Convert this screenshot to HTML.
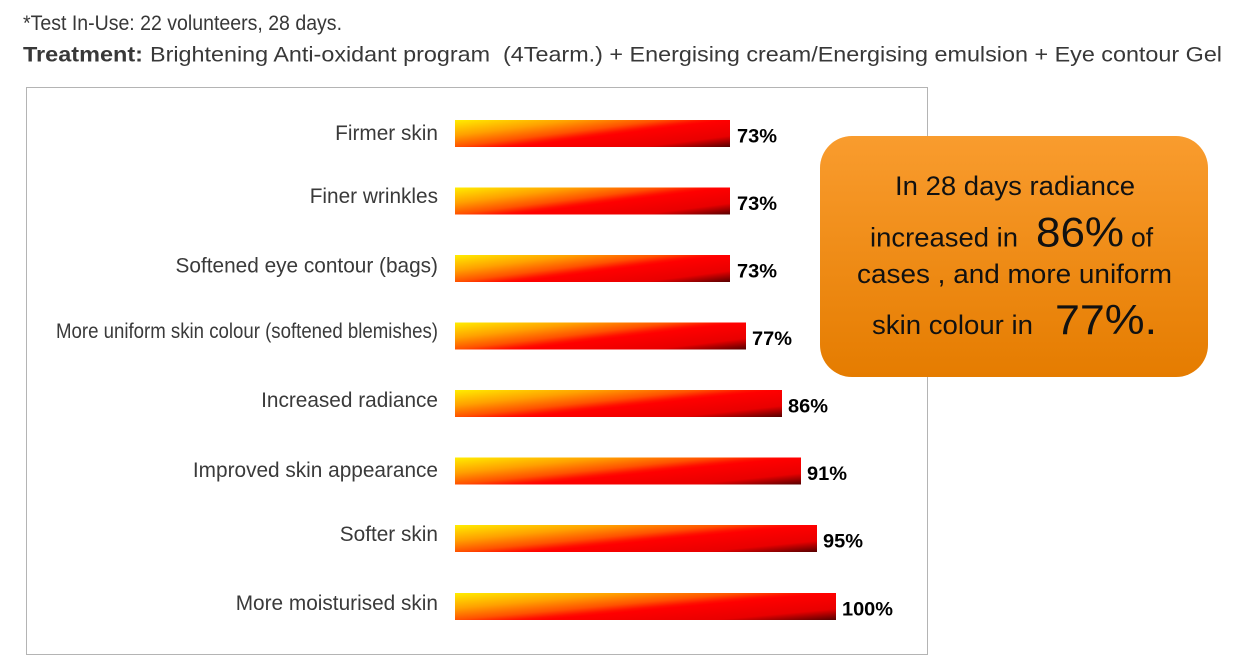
<!DOCTYPE html>
<html>
<head>
<meta charset="utf-8">
<style>
  html, body { margin: 0; padding: 0; background: #ffffff; }
  body { width: 1244px; height: 665px; overflow: hidden; }
  svg { display: block; }
  .hdr { font-family: "Liberation Sans", sans-serif; font-size: 21px; fill: #383838; }
  .lbl { font-family: "Liberation Sans", sans-serif; font-size: 20.8px; fill: #3a3a3a; }
  .val { font-family: "Liberation Sans", sans-serif; font-size: 19px; font-weight: bold; fill: #000; }
  .box { font-family: "Liberation Sans", sans-serif; font-size: 26.5px; fill: #111; }
  .big { font-family: "Liberation Sans", sans-serif; font-size: 42px; fill: #111; }
</style>
</head>
<body>
<svg width="1244" height="665" viewBox="0 0 1244 665" xmlns="http://www.w3.org/2000/svg">
  <defs>
    <linearGradient id="bar" x1="0" y1="0" x2="1.1156" y2="0.848">
      <stop offset="0" stop-color="#ffee00"/>
      <stop offset="0.25" stop-color="#ffa000"/>
      <stop offset="0.43" stop-color="#ff5200"/>
      <stop offset="0.52" stop-color="#ff1000"/>
      <stop offset="0.56" stop-color="#ff0000"/>
      <stop offset="0.82" stop-color="#e80000"/>
      <stop offset="1" stop-color="#550000"/>
    </linearGradient>
    <linearGradient id="orange" x1="0" y1="0" x2="0" y2="1">
      <stop offset="0" stop-color="#f99c2e"/>
      <stop offset="1" stop-color="#e57c00"/>
    </linearGradient>
  </defs>

  <!-- Header -->
  <text class="hdr" x="23" y="30" textLength="319" lengthAdjust="spacingAndGlyphs">*Test In-Use: 22 volunteers, 28 days.</text>
  <text class="hdr" x="23" y="61.5" font-weight="bold" textLength="120" lengthAdjust="spacingAndGlyphs">Treatment:</text>
  <text class="hdr" x="150" y="61.5" textLength="1072" lengthAdjust="spacingAndGlyphs" xml:space="preserve">Brightening Anti-oxidant program  (4Tearm.) + Energising cream/Energising emulsion + Eye contour Gel</text>

  <!-- Chart frame -->
  <rect x="26.5" y="87.5" width="901" height="567" fill="#ffffff" stroke="#b4b4b4" stroke-width="1"/>

  <!-- Category labels -->
  <text class="lbl" x="438" y="140" text-anchor="end">Firmer skin</text>
  <text class="lbl" x="438" y="203" text-anchor="end">Finer wrinkles</text>
  <text class="lbl" x="438" y="272.5" text-anchor="end">Softened eye contour (bags)</text>
  <text class="lbl" x="56" y="338" font-size="19px" textLength="382" lengthAdjust="spacingAndGlyphs">More uniform skin colour (softened blemishes)</text>
  <text class="lbl" x="438" y="407" text-anchor="end">Increased radiance</text>
  <text class="lbl" x="438" y="477" text-anchor="end">Improved skin appearance</text>
  <text class="lbl" x="438" y="541" text-anchor="end">Softer skin</text>
  <text class="lbl" x="438" y="610" text-anchor="end">More moisturised skin</text>

  <!-- Bars -->
  <rect x="455" y="120" width="275" height="27" fill="url(#bar)"/>
  <rect x="455" y="187.5" width="275" height="27" fill="url(#bar)"/>
  <rect x="455" y="255" width="275" height="27" fill="url(#bar)"/>
  <rect x="455" y="322.5" width="291" height="27" fill="url(#bar)"/>
  <rect x="455" y="390" width="327" height="27" fill="url(#bar)"/>
  <rect x="455" y="457.5" width="346" height="27" fill="url(#bar)"/>
  <rect x="455" y="525" width="362" height="27" fill="url(#bar)"/>
  <rect x="455" y="593" width="381" height="27" fill="url(#bar)"/>

  <!-- Value labels -->
  <text class="val" x="737" y="142.5" textLength="40" lengthAdjust="spacingAndGlyphs">73%</text>
  <text class="val" x="737" y="210" textLength="40" lengthAdjust="spacingAndGlyphs">73%</text>
  <text class="val" x="737" y="277.5" textLength="40" lengthAdjust="spacingAndGlyphs">73%</text>
  <text class="val" x="752" y="345" textLength="40" lengthAdjust="spacingAndGlyphs">77%</text>
  <text class="val" x="788" y="412.5" textLength="40" lengthAdjust="spacingAndGlyphs">86%</text>
  <text class="val" x="807" y="480" textLength="40" lengthAdjust="spacingAndGlyphs">91%</text>
  <text class="val" x="823" y="547.5" textLength="40" lengthAdjust="spacingAndGlyphs">95%</text>
  <text class="val" x="842" y="615.5" textLength="51" lengthAdjust="spacingAndGlyphs">100%</text>

  <!-- Callout box -->
  <rect x="820" y="136" width="388" height="241" rx="32" ry="32" fill="url(#orange)"/>
  <text class="box" x="895" y="195" textLength="240" lengthAdjust="spacingAndGlyphs">In 28 days radiance</text>
  <text class="box" x="870" y="246.5" textLength="148" lengthAdjust="spacingAndGlyphs">increased in</text>
  <text class="big" x="1036" y="246.5" textLength="88" lengthAdjust="spacingAndGlyphs">86%</text>
  <text class="box" x="1131" y="246.5">of</text>
  <text class="box" x="857" y="283" textLength="315" lengthAdjust="spacingAndGlyphs">cases , and more uniform</text>
  <text class="box" x="872" y="334" textLength="161" lengthAdjust="spacingAndGlyphs">skin colour in</text>
  <text class="big" x="1055" y="334" textLength="102" lengthAdjust="spacingAndGlyphs">77%.</text>
</svg>
</body>
</html>
